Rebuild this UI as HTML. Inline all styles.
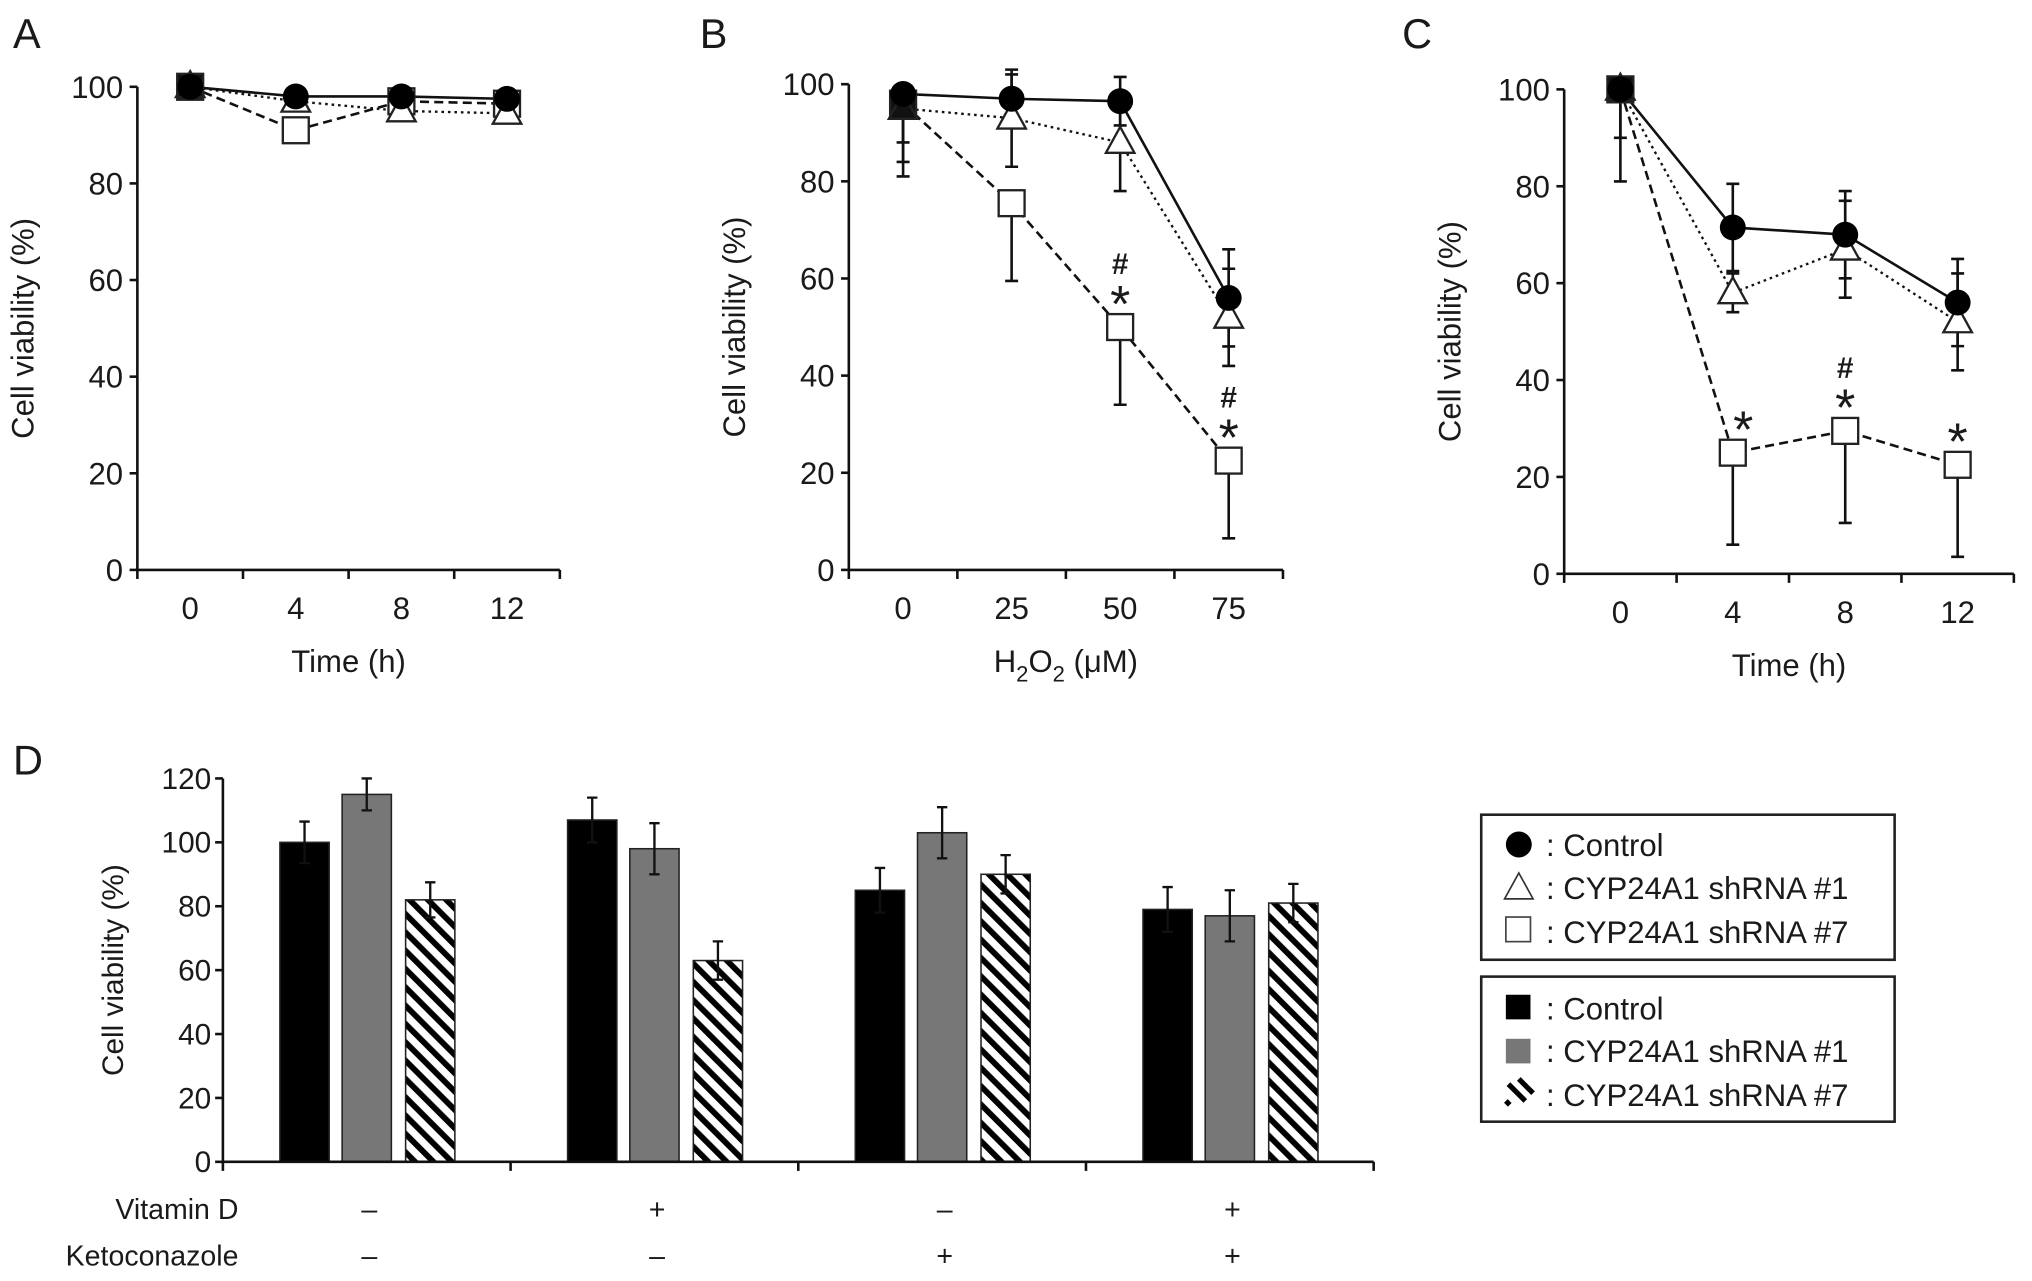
<!DOCTYPE html>
<html><head><meta charset="utf-8">
<style>
html,body{margin:0;padding:0;background:#fff;}
svg{display:block;}
text{font-family:"Liberation Sans",Arial,sans-serif;fill:#1a1a1a;}
</style></head>
<body>
<svg id="fig" width="2032" height="1281" viewBox="0 0 1568 989" preserveAspectRatio="none" xmlns="http://www.w3.org/2000/svg">
<defs>
<pattern id="hatch" patternUnits="userSpaceOnUse" width="10" height="10" patternTransform="rotate(-45)">
<rect width="10" height="10" fill="#fff"/>
<rect x="0" y="0" width="4.5" height="10" fill="#000"/>
</pattern>
</defs>
<g id="root"></g>
</svg>
<script>
// ---------- Panel A data ----------
const catsA = ['0','4','8','12'];
const ctrlA = [100, 98, 98, 97.5];
const sh1A = [100, 97, 95, 94.5];
const sh7A = [100, 91, 97, 96.5];
const ctrlAErr = [0.8, 1, 1, 1];
const sh1AErr = [0.8, 1, 1.5, 1.5];
const sh7AErr = [0.8, 2.5, 1, 1];
// ---------- Panel B data ----------
const catsB = ['0','25','50','75'];
const ctrlB = [98, 97, 96.5, 56];
const sh1B = [95, 93, 88, 52];
const sh7B = [96, 75.5, 50, 22.5];
const ctrlBErr = [10, 5, 5, 10];
const sh1BErr = [14, 10, 10, 10];
const sh7BErr = [12, 16, 16, 16];
// ---------- Panel C data ----------
const catsC = ['0','4','8','12'];
const ctrlC = [100, 71.5, 70, 56];
const sh1C = [100, 58, 67, 52];
const sh7C = [100, 25, 29.5, 22.5];
const ctrlCErr = [10, 9, 9, 9];
const sh1CErr = [19, 4, 10, 10];
const sh7CErr = [0, 19, 19, 19];
const yTicksLine = [0, 20, 40, 60, 80, 100];
// ---------- Panel D data ----------
const groupsD = ['g1','g2','g3','g4'];
const vitD = ['–','+','–','+'];
const keto = ['–','–','+','+'];
const ctrlD = [100, 107, 85, 79];
const sh1D = [115, 98, 103, 77];
const sh7D = [82, 63, 90, 81];
const ctrlDErr = [6.5, 7, 7, 7];
const sh1DErr = [5, 8, 8, 8];
const sh7DErr = [5.5, 6, 6, 6];
const yTicksD = [0, 20, 40, 60, 80, 100, 120];

const NS = 'http://www.w3.org/2000/svg';
const root = document.getElementById('root');
function mk(tag, attrs, parent, txt){
  const e = document.createElementNS(NS, tag);
  for (const k in attrs) e.setAttribute(k, attrs[k]);
  if (txt !== undefined) e.textContent = txt;
  (parent || root).appendChild(e);
  return e;
}

function linePanel(cfg){
  const g = mk('g', {});
  
  
  const x0 = cfg.x0, x1 = cfg.x1, yTop = cfg.yTop, yBot = cfg.yBot;
  const yS = v => yBot - (v / 100) * (yBot - yTop);
  const bw = (x1 - x0) / cfg.cats.length;
  const xS = i => x0 + bw * (i + 0.5);
  const ax = mk('path', {d:`M${x0},${yTop} V${yBot} H${x1}`, fill:'none', stroke:'#111', 'stroke-width':2}, g);
  
  
  yTicksLine.forEach(t => {
    mk('line', {x1:x0-6, x2:x0, y1:yS(t), y2:yS(t), stroke:'#111', 'stroke-width':2}, g);
    const tl = mk('text', {x:x0-11, y:yS(t)+8.5, 'text-anchor':'end', 'font-size':24}, g, String(t));
    
    
  });
  for (let i = 0; i <= cfg.cats.length; i++) {
    mk('line', {x1:x0+bw*i, x2:x0+bw*i, y1:yBot, y2:yBot+7, stroke:'#111', 'stroke-width':2}, g);
  }
  cfg.cats.forEach((c, i) => {
    const tl = mk('text', {x:xS(i), y:yBot+38, 'text-anchor':'middle', 'font-size':24}, g, c);
    
    
  });
  const yt = mk('text', {x:0, y:0, 'text-anchor':'middle', 'font-size':24, transform:`translate(${x0-80},${(yTop+yBot)/2}) rotate(-90)`}, g, 'Cell viability (%)');
  
  
  const xt = mk('text', {x:(x0+x1)/2, y:yBot+79, 'text-anchor':'middle', 'font-size':24}, g);
  
  
  if (cfg.h2o2) {
    mk('tspan', {}, xt, 'H');
    mk('tspan', {dy:7, 'font-size':17}, xt, '2');
    mk('tspan', {dy:-7}, xt, 'O');
    mk('tspan', {dy:7, 'font-size':17}, xt, '2');
    mk('tspan', {dy:-7}, xt, ' (μM)');
  } else xt.textContent = cfg.xTitle;
  const pl = mk('text', {x:cfg.labelX, y:37, 'font-size':32}, g, cfg.letter);
  
  

  const series = [
    {name:'sh7', v:cfg.sh7, e:cfg.sh7E, dash:'7,4', up:false},
    {name:'sh1', v:cfg.sh1, e:cfg.sh1E, dash:'2,3', up:true},
    {name:'control', v:cfg.ctrl, e:cfg.ctrlE, dash:'', up:true},
  ];
  series.forEach(s => {
    s.v.forEach((v, i) => {
      const e = s.e[i]; if (!e) return;
      const x = xS(i), yl = yS(v - e), yh = s.up && i > 0 ? yS(v + e) : yS(v);
      const eb = mk('path', {d:`M${x},${yh} V${yl} M${x-5},${yl} H${x+5}` + (s.up && i>0 ? ` M${x-5},${yh} H${x+5}` : ''), stroke:'#111', 'stroke-width':2, fill:'none'}, g);
      
      
    });
  });
  series.forEach(s => {
    const d = s.v.map((v, i) => (i ? 'L' : 'M') + xS(i) + ',' + yS(v)).join(' ');
    const ln = mk('path', {d, fill:'none', stroke:'#111', 'stroke-width':s.dash==='2,3'?1.8:2, 'stroke-dasharray':s.dash}, g);
    
    
  });
  cfg.sh7.forEach((v, i) => {
    const m = mk('rect', {x:xS(i)-10, y:yS(v)-10, width:20, height:20, fill:i===0?'#111':'#fff', stroke:'#222', 'stroke-width':1.8}, g);
    
    
  });
  cfg.sh1.forEach((v, i) => {
    const x = xS(i), y = yS(v);
    const m = mk('path', {d:`M${x},${y-12} L${x+11},${y+8} L${x-11},${y+8} Z`, fill:i===0?'#111':'#fff', stroke:'#222', 'stroke-width':1.8}, g);
    
    
  });
  cfg.ctrl.forEach((v, i) => {
    const m = mk('circle', {cx:xS(i), cy:yS(v), r:10, fill:'#000'}, g);
    
    
  });
  (cfg.ann || []).forEach(a => {
    const i = a[0], sym = a[1];
    const x = xS(i) + (a[2] || 0);
    const y = yS(cfg.sh7[i]);
    const st = mk('text', {x, y:y-4, 'text-anchor':'middle', 'font-size':40}, g, '*');
    
    
    if (sym === '#*') {
      const h = mk('text', {x, y:y-41, 'text-anchor':'middle', 'font-size':23, 'font-weight':'bold'}, g, '#');
      
      
    }
  });
}

linePanel({name:'panel-a', letter:'A', labelX:10, x0:106, x1:432, yTop:67, yBot:440, cats:catsA, xTitle:'Time (h)',
  ctrl:ctrlA, sh1:sh1A, sh7:sh7A, ctrlE:ctrlAErr, sh1E:sh1AErr, sh7E:sh7AErr});
linePanel({name:'panel-b', letter:'B', labelX:540, x0:655, x1:990, yTop:65, yBot:440, cats:catsB, h2o2:true,
  ctrl:ctrlB, sh1:sh1B, sh7:sh7B, ctrlE:ctrlBErr, sh1E:sh1BErr, sh7E:sh7BErr, ann:[[2,'#*'],[3,'#*']]});
linePanel({name:'panel-c', letter:'C', labelX:1082, x0:1207, x1:1554, yTop:69, yBot:443, cats:catsC, xTitle:'Time (h)',
  ctrl:ctrlC, sh1:sh1C, sh7:sh7C, ctrlE:ctrlCErr, sh1E:sh1CErr, sh7E:sh7CErr, ann:[[1,'*',8],[2,'#*'],[3,'*']]});

(function(){
  const g = mk('g', {});
  
  
  const x0 = 172, x1 = 1060, yTop = 601, yBot = 897;
  const yS = v => yBot - (v / 120) * (yBot - yTop);
  const gw = (x1 - x0) / groupsD.length;
  const pl = mk('text', {x:10, y:598, 'font-size':32}, g, 'D');
  
  
  const series = [
    {name:'control', v:ctrlD, e:ctrlDErr, fill:'#000', off:44},
    {name:'sh1', v:sh1D, e:sh1DErr, fill:'#777', off:92},
    {name:'sh7', v:sh7D, e:sh7DErr, fill:'url(#hatch)', off:141},
  ];
  series.forEach(s => {
    s.v.forEach((v, i) => {
      const x = x0 + gw * i + s.off;
      const b = mk('rect', {x, y:yS(v), width:38, height:yBot - yS(v), fill:s.fill, stroke:'#222', 'stroke-width':1.2}, g);
      
      
      const cx = x + 19, yh = yS(v + s.e[i]), yl = yS(v - s.e[i]);
      const eb = mk('path', {d:`M${cx},${yh} V${yl} M${cx-4},${yh} H${cx+4} M${cx-4},${yl} H${cx+4}`, stroke:'#111', 'stroke-width':1.8, fill:'none'}, g);
      
      
    });
  });
  const ax = mk('path', {d:`M${x0},${yTop} V${yBot} H${x1}`, fill:'none', stroke:'#111', 'stroke-width':2}, g);
  
  
  yTicksD.forEach(t => {
    mk('line', {x1:x0-6, x2:x0, y1:yS(t), y2:yS(t), stroke:'#111', 'stroke-width':2}, g);
    const tl = mk('text', {x:x0-9, y:yS(t)+8, 'text-anchor':'end', 'font-size':23}, g, String(t));
    
    
  });
  for (let i = 0; i <= groupsD.length; i++) mk('line', {x1:x0+gw*i, x2:x0+gw*i, y1:yBot, y2:yBot+7, stroke:'#111', 'stroke-width':2}, g);
  const yt = mk('text', {x:0, y:0, 'text-anchor':'middle', 'font-size':23, transform:`translate(${x0-77},${(yTop+yBot)/2}) rotate(-90)`}, g, 'Cell viability (%)');
  
  
  const l1 = mk('text', {x:184, y:941, 'text-anchor':'end', 'font-size':22}, g, 'Vitamin D');
  
  
  const l2 = mk('text', {x:184, y:977, 'text-anchor':'end', 'font-size':22}, g, 'Ketoconazole');
  
  
  groupsD.forEach((gr, i) => {
    const cx = x0 + gw * i + 113;
    const a = mk('text', {x:cx, y:941, 'text-anchor':'middle', 'font-size':22}, g, vitD[i]);
    
    
    const b = mk('text', {x:cx, y:977, 'text-anchor':'middle', 'font-size':22}, g, keto[i]);
    
    
  });
})();

(function(){
  const lg1 = mk('g', {});
  
  
  mk('rect', {x:1143, y:629, width:319, height:112, fill:'#fff', stroke:'#222', 'stroke-width':2}, lg1);
  mk('circle', {cx:1172, cy:652, r:10, fill:'#000'}, lg1);
  mk('path', {d:'M1172,674 L1183,694 L1161,694 Z', fill:'#fff', stroke:'#333', 'stroke-width':1.3}, lg1);
  mk('rect', {x:1162, y:708, width:19, height:19, fill:'#fff', stroke:'#444', 'stroke-width':1.3}, lg1);
  [[': Control',661],[': CYP24A1 shRNA #1',694],[': CYP24A1 shRNA #7',728]].forEach(t => {
    const e = mk('text', {x:1193, y:t[1], 'font-size':24}, lg1, t[0]);
    
    
  });
  const lg2 = mk('g', {});
  
  
  mk('rect', {x:1143, y:754, width:319, height:112, fill:'#fff', stroke:'#222', 'stroke-width':2}, lg2);
  mk('rect', {x:1162, y:768, width:19, height:19, fill:'#000'}, lg2);
  mk('rect', {x:1162, y:802, width:19, height:19, fill:'#777'}, lg2);
  mk('path', {d:'M1164,837 L1177,850 M1172,833 L1183,844 M1162,850 L1165,853', stroke:'#000', 'stroke-width':4, fill:'none'}, lg2);
  [[': Control',787],[': CYP24A1 shRNA #1',820],[': CYP24A1 shRNA #7',854]].forEach(t => {
    const e = mk('text', {x:1193, y:t[1], 'font-size':24}, lg2, t[0]);
    
    
  });
})();
</script>
</body></html>
